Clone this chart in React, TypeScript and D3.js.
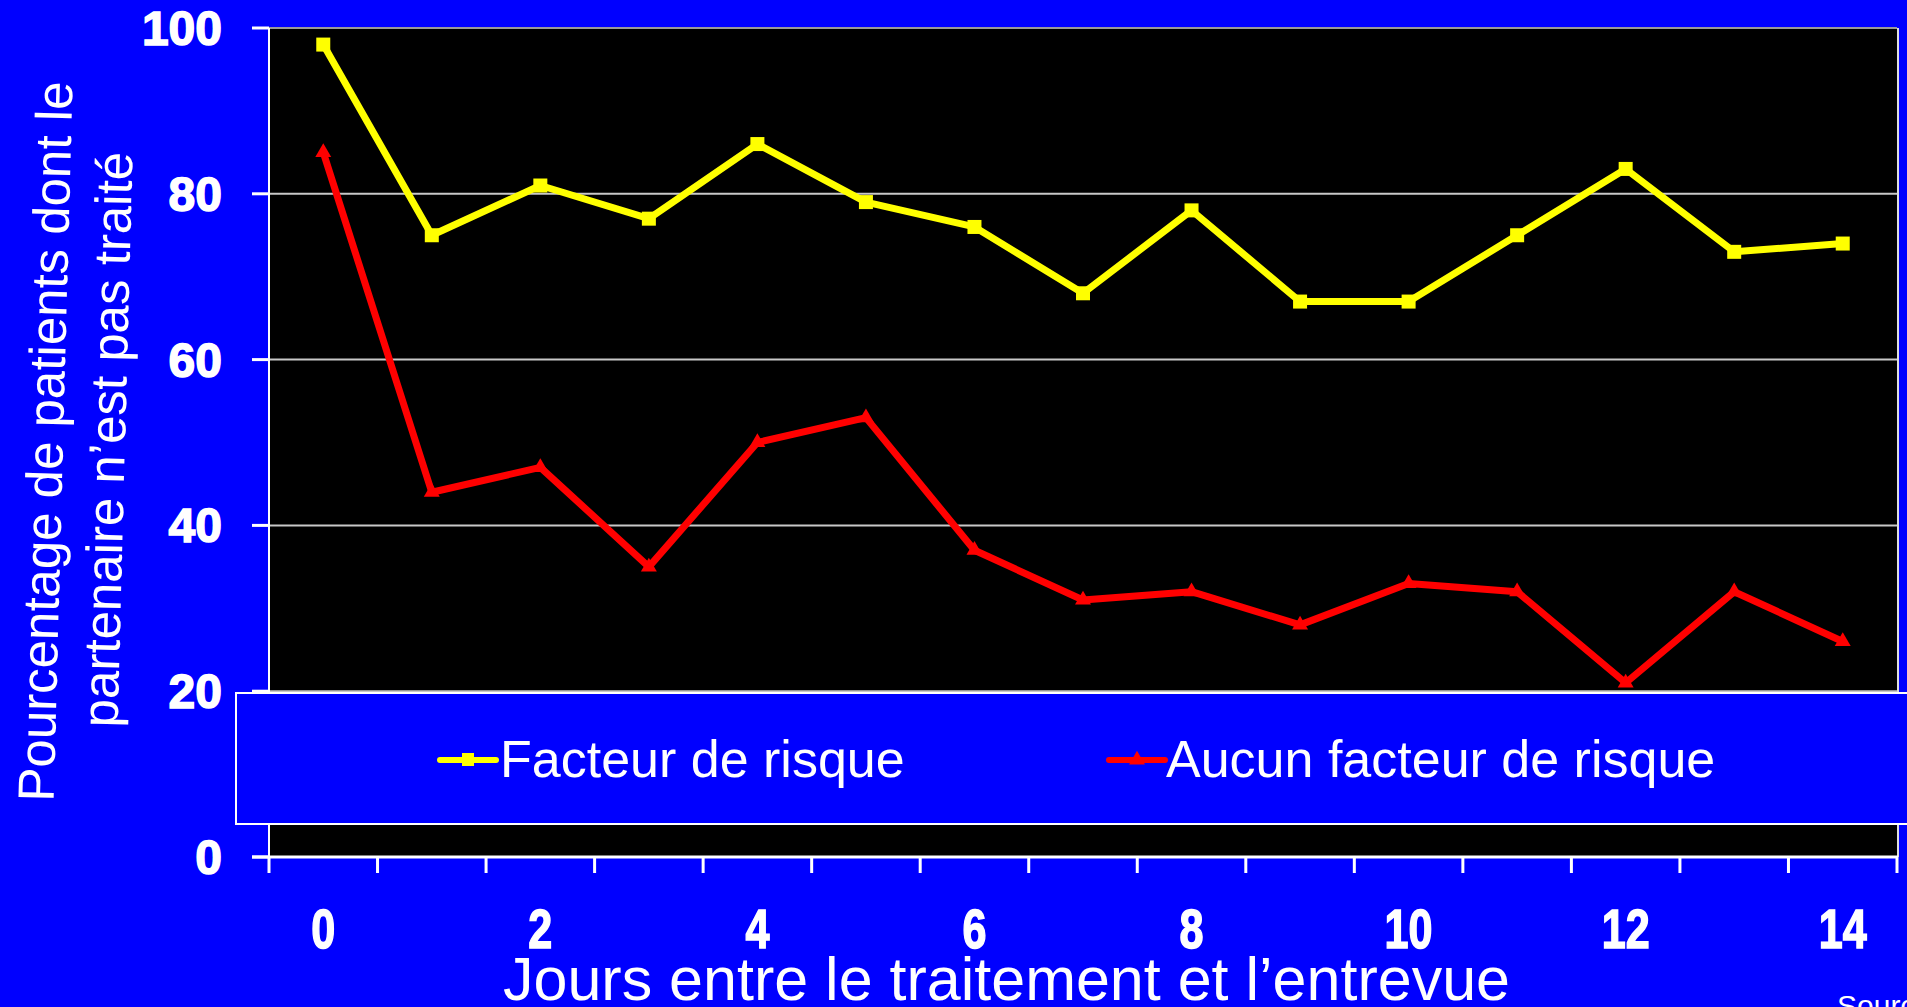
import React from 'react';
import * as d3 from 'd3';

// jours entre le traitement et l'entrevue
const days = [0, 1, 2, 3, 4, 5, 6, 7, 8, 9, 10, 11, 12, 13, 14];
// Facteur de risque
const withRisk = [98, 75, 81, 77, 86, 79, 76, 68, 78, 67, 67, 75, 83, 73, 74];
// Aucun facteur de risque
const noRisk = [85, 44, 47, 35, 50, 53, 37, 31, 32, 28, 33, 32, 21, 32, 26];
const yTicks = [0, 20, 40, 60, 80, 100];
const xLabels = [0, 2, 4, 6, 8, 10, 12, 14];

const W = 1907, H = 1007;
const BLUE = '#0000ff';

const App = () => {
    const x = d3.scaleBand<number>().domain(days).range([269, 1897]).padding(0);
    const y = d3.scaleLinear().domain([0, 100]).range([857, 28]);
    const cx = (d: number) => (x(d) as number) + x.bandwidth() / 2;

    const line = d3.line<number>()
        .x((d, i) => cx(days[i]))
        .y(d => y(d));

    const tri = d3.symbol().type(d3.symbolTriangle).size(110)();

    const boundaries = days.map(d => x(d) as number).concat([1897]);

    return (
        <svg width={W} height={H} style={{position: 'fixed', top: 0, left: 0, display: 'block'}}
             fontFamily="'Liberation Sans', Arial, sans-serif">
            <rect x={0} y={0} width={W} height={H} fill={BLUE}/>

            {/* plot area */}
            <rect x={269} y={y(100)} width={1897 - 269} height={y(0) - y(100)} fill="#000"/>
            {yTicks.filter(t => t > 0 && t < 100).map(t => (
                <line key={t} x1={269} x2={1897} y1={y(t)} y2={y(t)} stroke="#c8c8c8" strokeWidth={2}/>
            ))}
            <line x1={269} x2={1897} y1={y(100)} y2={y(100)} stroke="#9a9a9a" strokeWidth={2}/>
            <line x1={1898} x2={1898} y1={y(100)} y2={y(0)} stroke="#dddddd" strokeWidth={2}/>

            {/* series */}
            <path d={line(withRisk) || ''} fill="none" stroke="#ffff00" strokeWidth={7} strokeLinejoin="round"/>
            {withRisk.map((v, i) => (
                <rect key={i} x={cx(days[i]) - 7} y={y(v) - 7} width={14} height={14} fill="#ffff00"/>
            ))}
            <path d={line(noRisk) || ''} fill="none" stroke="#ff0000" strokeWidth={7} strokeLinejoin="round"/>
            {noRisk.map((v, i) => (
                <path key={i} d={tri || ''} transform={`translate(${cx(days[i])},${y(v)})`} fill="#ff0000"/>
            ))}

            {/* axes */}
            <line x1={269} x2={269} y1={y(100)} y2={y(0)} stroke="#ffffff" strokeWidth={2}/>
            {yTicks.map(t => (
                <g key={t}>
                    <line x1={252} x2={269} y1={y(t)} y2={y(t)} stroke="#fff" strokeWidth={3}/>
                    <text x={222} y={y(t) + 17} textAnchor="end" fill="#fff" fontSize={48}
                          fontWeight="bold" stroke="#fff" strokeWidth={1.5}>{t}</text>
                </g>
            ))}
            <line x1={252} x2={1898} y1={y(0)} y2={y(0)} stroke="#fff" strokeWidth={3}/>
            {boundaries.map((b, i) => (
                <line key={i} x1={b} x2={b} y1={y(0)} y2={y(0) + 16} stroke="#fff" strokeWidth={3}/>
            ))}
            {xLabels.map(d => (
                <text key={d} x={cx(d)} y={948} textAnchor="middle" fill="#fff" fontSize={55}
                      fontWeight="bold" stroke="#fff" strokeWidth={1.5}
                      textLength={String(d).length * 24}
                      lengthAdjust="spacingAndGlyphs">{d}</text>
            ))}

            {/* legend */}
            <rect x={236} y={693} width={1700} height={131} fill={BLUE} stroke="#fff" strokeWidth={2}/>
            <line x1={440} x2={496} y1={760} y2={760} stroke="#ffff00" strokeWidth={6} strokeLinecap="round"/>
            <rect x={462} y={753} width={12} height={13} fill="#ffff00"/>
            <text x={500} y={777} fill="#fff" fontSize={52}>Facteur de risque</text>
            <line x1={1109} x2={1165} y1={760} y2={760} stroke="#ff0000" strokeWidth={6} strokeLinecap="round"/>
            <path d={tri || ''} transform="translate(1137,760)" fill="#ff0000"/>
            <text x={1166} y={777} fill="#fff" fontSize={52}>Aucun facteur de risque</text>

            {/* titles */}
            <text transform="translate(63,442) rotate(-88.5)" textAnchor="middle" fill="#fff" fontSize={51}>
                Pourcentage de patients dont le
            </text>
            <text transform="translate(125,440) rotate(-88.5)" textAnchor="middle" fill="#fff" fontSize={51}>
                partenaire n’est pas traité
            </text>
            <text x={503} y={1000} fill="#fff" fontSize={61}>Jours entre le traitement et l’entrevue</text>
            <text x={1837} y={1016} fill="#fff" fontSize={30}>Source</text>
        </svg>
    );
};

export default App;
